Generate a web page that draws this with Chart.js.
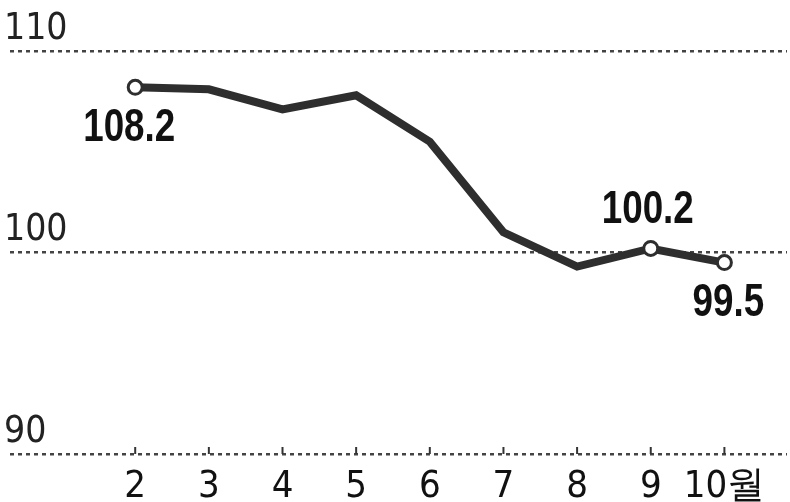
<!DOCTYPE html>
<html>
<head>
<meta charset="utf-8">
<script src="https://cdn.jsdelivr.net/npm/chart.js@4/dist/chart.umd.min.js"></script>
<style>
html,body{margin:0;padding:0;background:#fff;}
#wrap{width:790px;height:502px;position:relative;}
</style>
</head>
<body>
<div id="wrap"><canvas id="c" width="790" height="502"></canvas></div>
<script>
// Data
const months = [2, 3, 4, 5, 6, 7, 8, 9, 10];
const monthLabels = ['2', '3', '4', '5', '6', '7', '8', '9', '10월'];
const values = [108.2, 108.1, 107.1, 107.8, 105.5, 101.0, 99.3, 100.2, 99.5];
const yTicks = [90, 100, 110];
const labeledIdx = [0, 7, 8];
const labeledPos = ['below', 'above', 'below'];

const FONT = '"Liberation Sans Narrow", "DejaVu Sans Condensed", Arial, sans-serif';
const INK = '#2e2e2e';

const points = months.map((m, i) => ({ x: m, y: values[i] }));

const extras = {
  id: 'extras',
  afterDatasetsDraw(chart) {
    const { ctx, scales: { x, y }, chartArea } = chart;
    ctx.save();
    ctx.setLineDash([]);
    // small tick marks on the base line
    ctx.strokeStyle = '#333';
    ctx.lineWidth = 2;
    months.forEach(m => {
      const px = x.getPixelForValue(m);
      ctx.beginPath();
      ctx.moveTo(px, chartArea.bottom);
      ctx.lineTo(px, chartArea.bottom - 7);
      ctx.stroke();
    });
    // value labels
    ctx.fillStyle = '#111';
    ctx.font = 'bold 46px "Liberation Sans", Arial, sans-serif';
    ctx.textAlign = 'center';
    ctx.textBaseline = 'middle';
    labeledIdx.forEach((idx, k) => {
      const px = x.getPixelForValue(months[idx]);
      const py = y.getPixelForValue(values[idx]);
      const above = labeledPos[k] === 'above';
      const dx = k === 0 ? -6 : (k === 2 ? 4 : -3);
      ctx.save();
      ctx.translate(px + dx, py + (above ? -38 : 41));
      ctx.scale(0.8, 1);
      ctx.fillText(values[idx].toFixed(1), 0, 0);
      ctx.restore();
    });
    ctx.restore();
  }
};

new Chart(document.getElementById('c'), {
  type: 'line',
  data: {
    datasets: [{
      data: points,
      borderColor: INK,
      borderWidth: 8,
      borderJoinStyle: 'miter',
      tension: 0,
      pointRadius: points.map((p, i) => labeledIdx.includes(i) ? 7 : 0),
      pointBorderWidth: 3,
      pointBackgroundColor: '#fff',
      pointBorderColor: INK,
      pointHoverRadius: 0
    }]
  },
  options: {
    responsive: false,
    animation: false,
    events: [],
    layout: { autoPadding: false, padding: { left: 10, right: 3, top: 51, bottom: -18 } },
    plugins: { legend: { display: false }, tooltip: { enabled: false } },
    scales: {
      x: {
        type: 'linear',
        min: 0.3,
        max: 10.85,
        afterBuildTicks: s => { s.ticks = months.map(v => ({ value: v })); },
        grid: { display: false, drawTicks: false },
        border: { display: false },
        ticks: {
          autoSkip: false,
          maxRotation: 0,
          padding: 14,
          color: '#111',
          font: { family: FONT, size: 38, lineHeight: 1 },
          callback: v => monthLabels[months.indexOf(v)]
        }
      },
      y: {
        min: 90,
        max: 110,
        afterBuildTicks: s => { s.ticks = yTicks.map(v => ({ value: v })); },
        border: { display: false, dash: [4, 4] },
        grid: {
          drawTicks: false,
          color: '#444',
          lineWidth: 2.5
        },
        ticks: {
          mirror: true,
          padding: -2,
          labelOffset: -22,
          color: '#222',
          font: { family: FONT, size: 37 }
        }
      }
    }
  },
  plugins: [extras]
});
</script>
</body>
</html>
